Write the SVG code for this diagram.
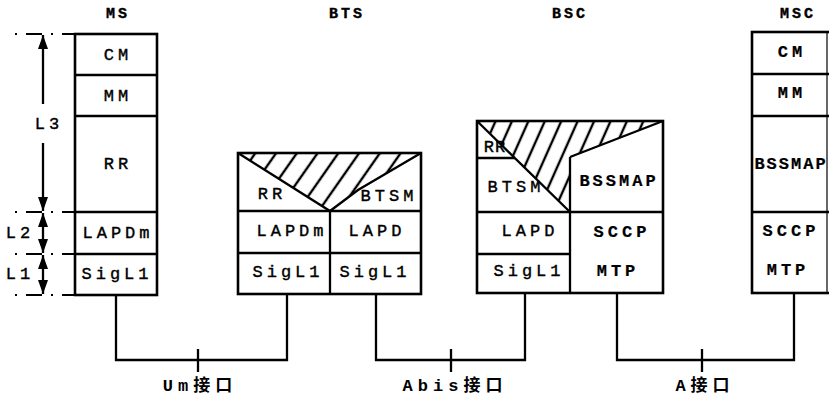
<svg xmlns="http://www.w3.org/2000/svg" width="829" height="400" viewBox="0 0 829 400">
<style>
.box{fill:#fff;stroke:#000;stroke-width:2.6}
.ln{stroke:#000;stroke-width:2.3;fill:none}
.dash{stroke:#000;stroke-width:2;fill:none;stroke-dasharray:2 9 16 9}
.t{font-family:"Liberation Mono","Courier New",monospace;font-size:17px;letter-spacing:4px;text-anchor:middle;dominant-baseline:central;fill:#000;stroke:#000;stroke-width:0.4}
.b{font-weight:bold;stroke-width:0.2}
.ti{font-size:15px;font-weight:bold;letter-spacing:3px}
.if{font-family:"Liberation Mono","Noto Sans CJK SC",monospace;font-size:17px;font-weight:bold;letter-spacing:5px;text-anchor:middle;fill:#000}
</style>
<defs>
<marker id="ah" viewBox="0 0 14 10" refX="14" refY="5" markerWidth="14" markerHeight="10" markerUnits="userSpaceOnUse" orient="auto-start-reverse">
<path d="M0,0 L14,5 L0,10 z" fill="#000"/>
</marker>
<pattern id="h1" width="17" height="17" patternUnits="userSpaceOnUse" patternTransform="rotate(35)">
<line x1="8" y1="-1" x2="8" y2="18" stroke="#000" stroke-width="2.4"/>
</pattern>
<pattern id="h2" width="15" height="15" patternUnits="userSpaceOnUse" patternTransform="rotate(24)">
<line x1="7" y1="-1" x2="7" y2="16" stroke="#000" stroke-width="2.4"/>
</pattern>
</defs>

<g id="titles">
<text class="t ti" x="118" y="14">MS</text>
<text class="t ti" x="347" y="14">BTS</text>
<text class="t ti" x="570" y="14">BSC</text>
<text class="t ti" x="798" y="14">MSC</text>
</g>

<g id="layers">
<line class="dash" x1="15" y1="34" x2="75" y2="34"/>
<line class="dash" x1="15" y1="212" x2="75" y2="212"/>
<line class="dash" x1="15" y1="254" x2="75" y2="254"/>
<line class="dash" x1="15" y1="295" x2="75" y2="295"/>
<line class="ln" x1="43" y1="104" x2="43" y2="35" marker-end="url(#ah)"/>
<line class="ln" x1="43" y1="143" x2="43" y2="211" marker-end="url(#ah)"/>
<line class="ln" x1="43" y1="213" x2="43" y2="253" marker-start="url(#ah)" marker-end="url(#ah)"/>
<line class="ln" x1="43" y1="255" x2="43" y2="294" marker-start="url(#ah)" marker-end="url(#ah)"/>
<text class="t" x="49" y="124">L3</text>
<text class="t" x="20" y="233">L2</text>
<text class="t" x="20" y="274">L1</text>
</g>

<g id="ms">
<rect class="box" x="75" y="34" width="82" height="261"/>
<line class="ln" x1="75" y1="75" x2="157" y2="75"/>
<line class="ln" x1="75" y1="116" x2="157" y2="116"/>
<line class="ln" x1="75" y1="212" x2="157" y2="212"/>
<line class="ln" x1="75" y1="254" x2="157" y2="254"/>
<text class="t" x="118" y="55">CM</text>
<text class="t" x="118" y="96">MM</text>
<text class="t" x="118" y="164">RR</text>
<text class="t" x="118" y="233">LAPDm</text>
<text class="t" x="117" y="274">SigL1</text>
</g>

<g id="bts">
<rect class="box" x="238" y="153" width="183" height="141"/>
<polygon points="238,153 421,153 358,190 330,211" fill="url(#h1)" stroke="none"/>
<polyline class="ln" points="238,153 330,211 358,190 421,153"/>
<line class="ln" x1="238" y1="211" x2="421" y2="211"/>
<line class="ln" x1="238" y1="253" x2="421" y2="253"/>
<line class="ln" x1="330" y1="211" x2="330" y2="294"/>
<text class="t" x="272" y="194">RR</text>
<text class="t" x="389" y="196">BTSM</text>
<text class="t" x="292" y="231">LAPDm</text>
<text class="t" x="377" y="231">LAPD</text>
<text class="t" x="288" y="272">SigL1</text>
<text class="t" x="375" y="272">SigL1</text>
</g>

<g id="bsc">
<rect class="box" x="477" y="121" width="186" height="172"/>
<polygon points="477,121 663,121 570,157 570,212" fill="url(#h2)" stroke="none"/>
<line class="ln" x1="477" y1="121" x2="570" y2="212"/>
<line class="ln" x1="477" y1="158" x2="515" y2="158"/>
<line class="ln" x1="570" y1="157" x2="663" y2="121"/>
<line class="ln" x1="570" y1="157" x2="570" y2="293"/>
<line class="ln" x1="477" y1="212" x2="663" y2="212"/>
<line class="ln" x1="477" y1="254" x2="570" y2="254"/>
<text class="t" x="495" y="147" style="letter-spacing:1px">RR</text>
<text class="t" x="516" y="187">BTSM</text>
<text class="t" x="530" y="231">LAPD</text>
<text class="t" x="529" y="271">SigL1</text>
<text class="t b" x="619" y="181" style="letter-spacing:3px">BSSMAP</text>
<text class="t b" x="622" y="232">SCCP</text>
<text class="t b" x="618" y="271">MTP</text>
</g>

<g id="msc">
<rect class="box" x="752" y="32" width="90" height="261"/>
<line class="ln" x1="827" y1="32" x2="827" y2="293" style="stroke-width:1.2"/>
<line class="ln" x1="752" y1="74" x2="829" y2="74"/>
<line class="ln" x1="752" y1="116" x2="829" y2="116"/>
<line class="ln" x1="752" y1="212" x2="829" y2="212"/>
<text class="t b" x="792" y="52">CM</text>
<text class="t b" x="792" y="93">MM</text>
<text class="t b" x="791" y="164" style="letter-spacing:2px">BSSMAP</text>
<text class="t b" x="791" y="231">SCCP</text>
<text class="t b" x="788" y="270">MTP</text>
</g>

<g id="connectors">
<path class="ln" d="M116,295 V360 H287 V294"/>
<line class="ln" x1="198" y1="349" x2="198" y2="372"/>
<path class="ln" d="M376,294 V360 H525 V293"/>
<line class="ln" x1="451" y1="349" x2="451" y2="372"/>
<path class="ln" d="M617,293 V360 H794 V293"/>
<line class="ln" x1="702" y1="349" x2="702" y2="372"/>
</g>

<g id="interfaces">
<text class="if" x="200" y="391">Um接口</text>
<text class="if" x="455" y="391">Abis接口</text>
<text class="if" x="705" y="391">A接口</text>
</g>
</svg>
